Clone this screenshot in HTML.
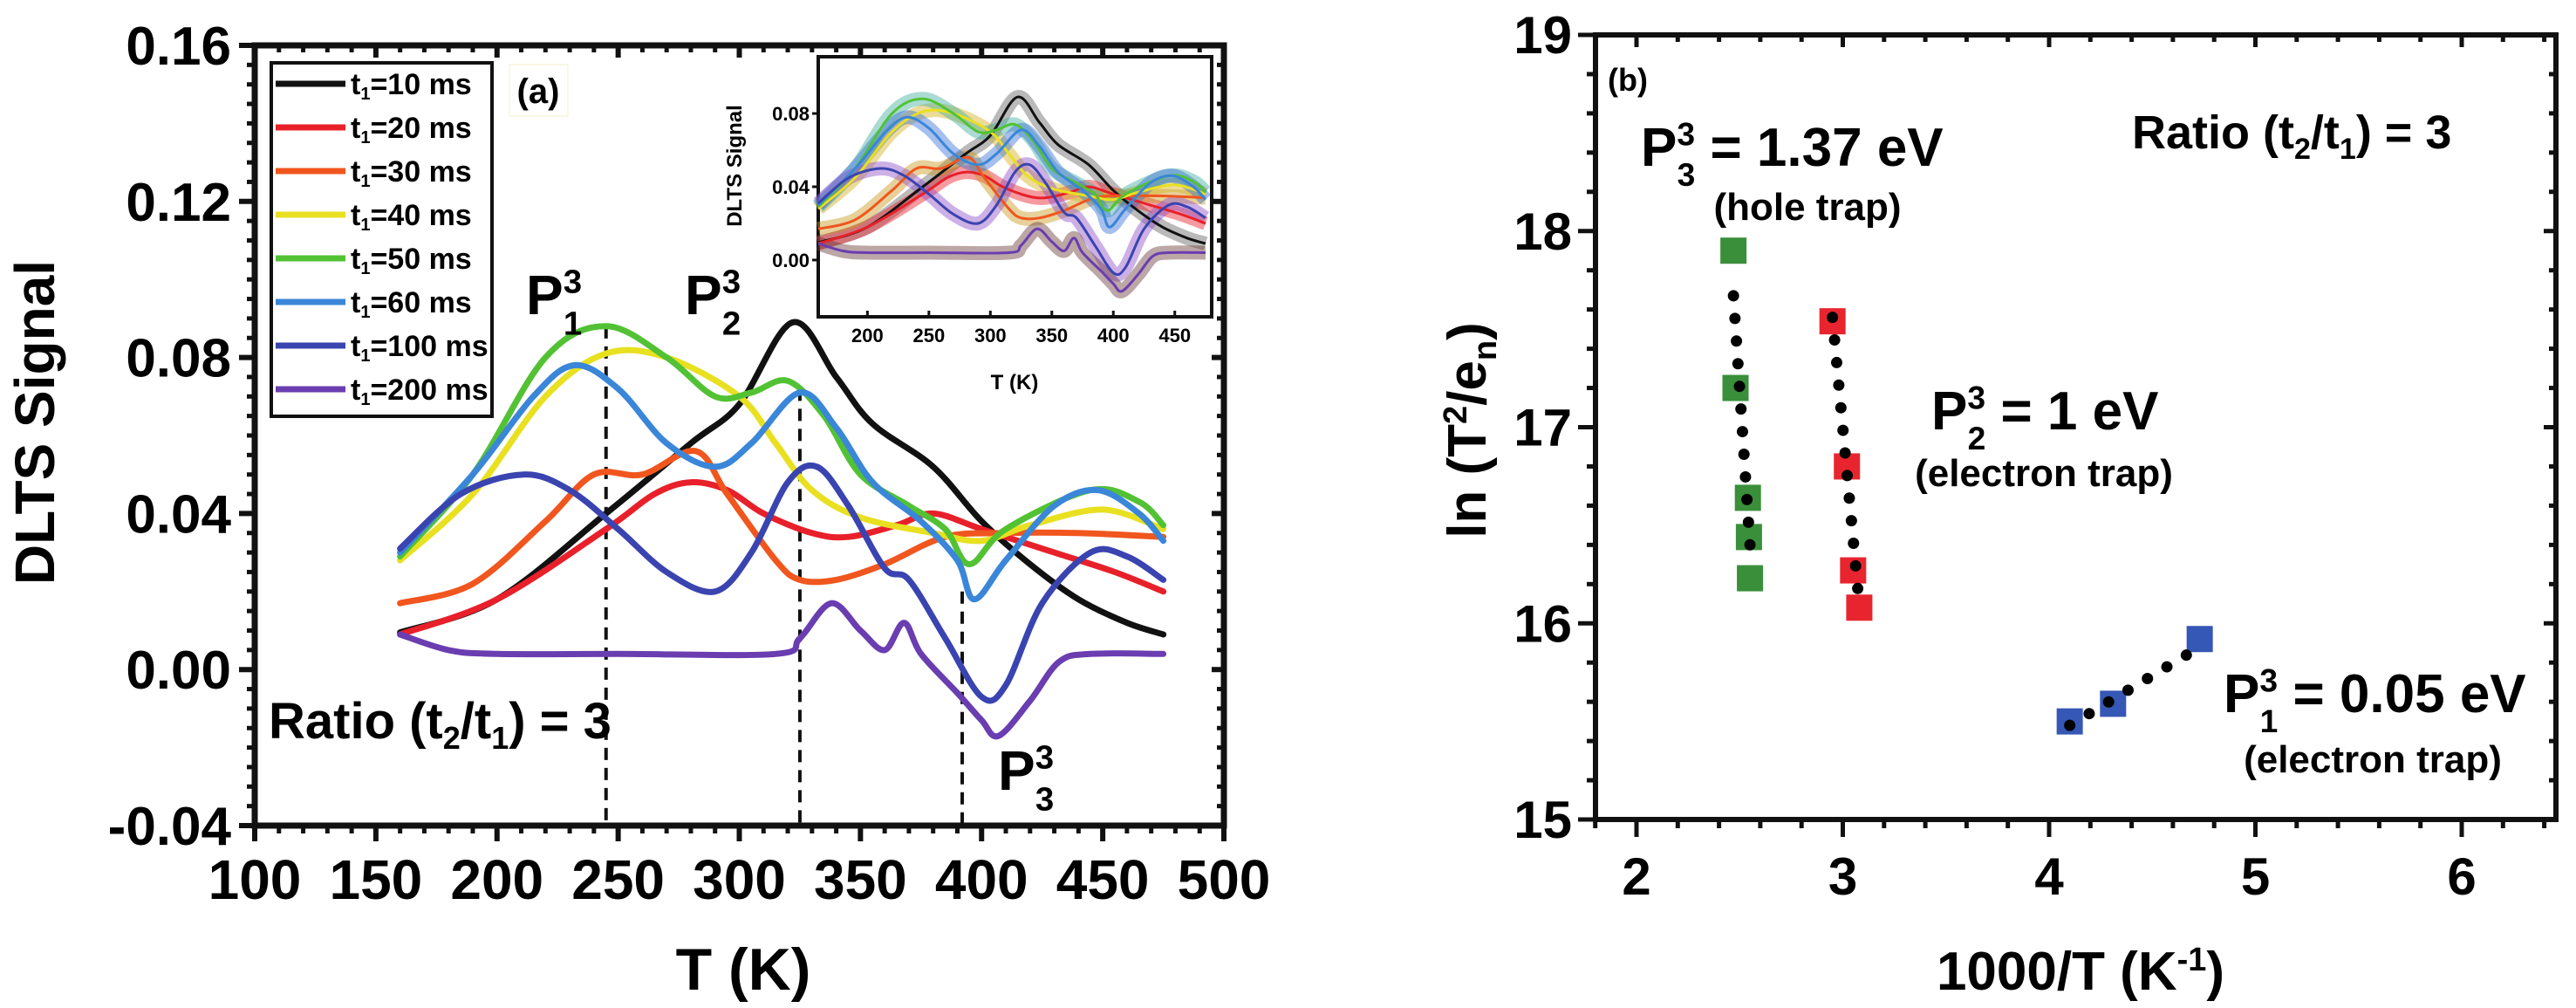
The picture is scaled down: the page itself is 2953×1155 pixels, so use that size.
<!DOCTYPE html>
<html><head><meta charset="utf-8"><style>
html,body{margin:0;padding:0;background:#fff;}
svg{display:block;font-family:"Liberation Sans",sans-serif;font-weight:bold;}
</style></head><body>
<svg id="fig" width="2953" height="1155" viewBox="0 0 2953 1155" xmlns="http://www.w3.org/2000/svg">
<g id="pa"></g>
<g id="pb"></g>
</svg>
<script>
// ---------- Panel (a) data ----------
const seriesLabels = ["10","20","30","40","50","60","100","200"];
const seriesColors = ["#111111","#e8202a","#f0561e","#e8e020","#52c234","#3a86d8","#3a44b0","#6a3db0"];
const tBlack = [160,200,245,280,300,322,340,355,380,400,420,440,460,475];
const sBlack = [0.0095,0.018,0.04,0.058,0.068,0.089,0.075,0.063,0.052,0.038,0.027,0.018,0.012,0.009];
const tRed = [160,200,245,265,280,295,310,330,345,365,380,400,430,455,475];
const sRed = [0.009,0.018,0.036,0.045,0.048,0.046,0.040,0.035,0.034,0.037,0.040,0.036,0.030,0.025,0.020];
const tOrange = [160,190,220,240,260,282,295,315,325,340,360,385,410,440,475];
const sOrange = [0.017,0.022,0.038,0.050,0.050,0.056,0.045,0.028,0.023,0.023,0.027,0.034,0.035,0.035,0.034];
const tYellow = [160,190,220,245,270,300,315,330,350,380,400,420,450,475];
const sYellow = [0.028,0.045,0.070,0.081,0.080,0.070,0.058,0.046,0.039,0.035,0.033,0.037,0.041,0.036];
const tGreen = [160,190,220,245,270,290,305,320,335,350,370,385,395,410,445,465,475];
const sGreen = [0.029,0.050,0.080,0.088,0.080,0.070,0.071,0.074,0.065,0.050,0.042,0.036,0.027,0.036,0.046,0.043,0.037];
const tBlue = [160,190,215,232,250,270,290,305,325,340,355,375,390,397,410,430,448,465,475];
const sBlue = [0.030,0.050,0.070,0.078,0.072,0.058,0.052,0.058,0.071,0.062,0.048,0.038,0.028,0.018,0.028,0.042,0.046,0.040,0.033];
const tNavy = [160,185,211,230,250,270,290,305,320,332,345,360,370,385,400,410,425,445,460,475];
const sNavy = [0.031,0.045,0.050,0.046,0.036,0.025,0.020,0.030,0.048,0.052,0.042,0.026,0.023,0.008,-0.007,-0.004,0.017,0.030,0.029,0.023];
const tPurple = [160,180,200,250,315,325,338,350,360,368,375,390,400,407,420,432,445,475];
const sPurple = [0.009,0.005,0.004,0.004,0.004,0.008,0.017,0.010,0.005,0.012,0.004,-0.006,-0.013,-0.017,-0.008,0.002,0.004,0.004];
const allT = [tBlack,tRed,tOrange,tYellow,tGreen,tBlue,tNavy,tPurple];
const allS = [sBlack,sRed,sOrange,sYellow,sGreen,sBlue,sNavy,sPurple];
const xTicksA = [100,150,200,250,300,350,400,450,500];
const yTicksA = [-0.04,0.00,0.04,0.08,0.12,0.16];
const yTickLabelsA = ["-0.04","0.00","0.04","0.08","0.12","0.16"];
const peakT = [245,325,392];
const peakTop = [0.088,0.072,0.02];
const insetXTicks = [200,250,300,350,400,450];
const insetYTicks = [0.00,0.04,0.08];
const insetYLabels = ["0.00","0.04","0.08"];
const noiseColors = ["#666","#e8202a","#c89a20","#d8b020","#40b0a0","#3a70d8","#9050c8","#6a3a3a"];

// ---------- Panel (b) data ----------
const greenX = [2.47,2.48,2.54,2.545,2.55];
const greenY = [17.90,17.20,16.64,16.44,16.23];
const redX = [2.95,3.02,3.05,3.08];
const redY = [17.54,16.80,16.27,16.08];
const blueX = [4.10,4.31,4.73];
const blueY = [15.50,15.59,15.92];
const fitGreen = [[2.47,17.67],[2.55,16.40]];
const fitRed = [[2.95,17.56],[3.08,16.09]];
const fitBlue = [[4.10,15.48],[4.70,15.86]];
const xTicksB = [2,3,4,5,6];
const yTicksB = [15,16,17,18,19];

const NS="http://www.w3.org/2000/svg";
function mk(tag, attrs, parent){const e=document.createElementNS(NS,tag);for(const k in attrs)e.setAttribute(k,attrs[k]);parent.appendChild(e);return e;}
function smooth(pts){
  let d="M"+pts[0][0].toFixed(1)+","+pts[0][1].toFixed(1);
  for(let i=0;i<pts.length-1;i++){
    const p0=pts[i-1]||pts[i],p1=pts[i],p2=pts[i+1],p3=pts[i+2]||p2;
    const c1=[p1[0]+(p2[0]-p0[0])/6,p1[1]+(p2[1]-p0[1])/6];
    const c2=[p2[0]-(p3[0]-p1[0])/6,p2[1]-(p3[1]-p1[1])/6];
    d+="C"+c1[0].toFixed(1)+","+c1[1].toFixed(1)+" "+c2[0].toFixed(1)+","+c2[1].toFixed(1)+" "+p2[0].toFixed(1)+","+p2[1].toFixed(1);
  }
  return d;
}

// ===== Panel A =====
const A=document.getElementById('pa');
const aL=292,aR=1403,aT=52,aB=946;
const ax=v=>aL+(v-100)/400*(aR-aL);
const ay=v=>aB-(v+0.04)/0.20*(aB-aT);
// minor/major ticks
for(let v=100;v<=500;v+=10){
  const major=v%50===0;
  const t=mk('line',{x1:ax(v),x2:ax(v),y1:aB,y2:aB+(major?18:9),stroke:'#111','stroke-width':major?6:5},A);
  
  
  const t2=mk('line',{x1:ax(v),x2:ax(v),y1:aT,y2:aT+(major?14:8),stroke:'#111','stroke-width':major?6:5},A);
  
  
}
for(let i=0;i<=40;i++){
  const v=-0.04+i*0.005;const major=i%8===0;
  const t=mk('line',{x1:aL,x2:aL-(major?18:9),y1:ay(v),y2:ay(v),stroke:'#111','stroke-width':major?6:5},A);
  
  
  const t2=mk('line',{x1:aR,x2:aR-(major?14:8),y1:ay(v),y2:ay(v),stroke:'#111','stroke-width':major?6:5},A);
  
  
}
const fa=mk('rect',{x:aL,y:aT,width:aR-aL,height:aB-aT,fill:'none',stroke:'#111','stroke-width':7},A);


xTicksA.forEach(v=>{
  const t=mk('text',{x:ax(v),y:1030,'text-anchor':'middle','font-size':64},A);t.textContent=v;
  
  
});
yTicksA.forEach((v,i)=>{
  const t=mk('text',{x:265,y:ay(v)+22,'text-anchor':'end','font-size':62},A);t.textContent=yTickLabelsA[i];
  
  
});
let yl=mk('text',{x:62,y:484,'text-anchor':'middle','font-size':64,transform:'rotate(-90 62 484)'},A);yl.textContent='DLTS Signal';


let xl=mk('text',{x:852,y:1134,'text-anchor':'middle','font-size':68},A);xl.textContent='T (K)';



// dashed lines
peakT.forEach((v,i)=>{
  const l=mk('line',{x1:ax(v),x2:ax(v),y1:ay(peakTop[i]),y2:aB,stroke:'#111','stroke-width':4,'stroke-dasharray':'14,9'},A);
  
  
});
// curves
allT.forEach((ts,k)=>{
  const pts=ts.map((t,i)=>[ax(t),ay(allS[k][i])]);
  const p=mk('path',{d:smooth(pts),fill:'none',stroke:seriesColors[k],'stroke-width':7,'stroke-linejoin':'round','stroke-linecap':'round'},A);
  
  
});
// legend
const lg=mk('g',{},A);


mk('rect',{x:311,y:72,width:253,height:405,fill:'#fff',stroke:'#111','stroke-width':4},lg);
seriesLabels.forEach((s,k)=>{
  const y=96+k*50;
  const g=mk('g',{},lg);
  
  
  mk('line',{x1:316,x2:396,y1:y,y2:y,stroke:seriesColors[k],'stroke-width':7},g);
  const t=mk('text',{x:402,y:y+12,'font-size':34},g);
  t.innerHTML='t<tspan font-size="20" dy="6">1</tspan><tspan dy="-6">='+s+' ms</tspan>';
});
// (a)
const bxa=mk('rect',{x:584,y:74,width:67,height:59,fill:'#fff',stroke:'#f4f0c8','stroke-width':1},A);


let la=mk('text',{x:617,y:118,'text-anchor':'middle','font-size':40},A);la.textContent='(a)';


function ann(parent,x,y,base,sub,name,size){
  const t=mk('text',{x:x,y:y,'font-size':size},parent);
  t.innerHTML=base+'<tspan font-size="'+(size*0.6)+'" dy="'+(-size*0.38)+'">3</tspan><tspan font-size="'+(size*0.6)+'" dx="'+(-size*0.33)+'" dy="'+(size*0.75)+'">'+sub+'</tspan>';
  
  
  return t;
}
ann(A,603,360,'P','1','peak-label-p1',64);
ann(A,785,360,'P','2','peak-label-p2',64);
ann(A,1144,905,'P','3','peak-label-p3',64);
let ra=mk('text',{x:308,y:846,'font-size':58},A);
ra.innerHTML='Ratio (t<tspan font-size="36" dy="12">2</tspan><tspan dy="-12">/t</tspan><tspan font-size="36" dy="12">1</tspan><tspan dy="-12">) = 3</tspan>';



// inset
const I=mk('g',{},A);


const iL=938,iR=1389,iT=65,iB=363;
const ix=v=>iL+(v-160)/320*(iR-iL);
const iy=v=>iB-(v+0.031)/0.142*(iB-iT);
mk('rect',{x:iL,y:iT,width:iR-iL,height:iB-iT,fill:'#fff',stroke:'#111','stroke-width':4},I);
const noiseOrder=[0,7,3,6,5,4,1,2];
allT.forEach((ts,k)=>{
  const pts=ts.map((t,i)=>[ix(t),iy(allS[k][i])]);
  const p=mk('path',{d:smooth(pts),fill:'none',stroke:noiseColors[k],'stroke-width':16,opacity:0.45},I);
  
  
});
allT.forEach((ts,k)=>{
  const pts=ts.map((t,i)=>[ix(t),iy(allS[k][i])]);
  const p=mk('path',{d:smooth(pts),fill:'none',stroke:seriesColors[k],'stroke-width':3},I);
  
  
});
insetXTicks.forEach(v=>{
  mk('line',{x1:ix(v),x2:ix(v),y1:iB,y2:iB-7,stroke:'#111','stroke-width':3},I);
  const t=mk('text',{x:ix(v),y:392,'text-anchor':'middle','font-size':22},I);t.textContent=v;
  
  
});
insetYTicks.forEach((v,i)=>{
  mk('line',{x1:iL,x2:iL-7,y1:iy(v),y2:iy(v),stroke:'#111','stroke-width':3},I);
  const t=mk('text',{x:iL-10,y:iy(v)+8,'text-anchor':'end','font-size':22},I);t.textContent=insetYLabels[i];
  
  
});
let ixl=mk('text',{x:1163,y:446,'text-anchor':'middle','font-size':24},I);ixl.textContent='T (K)';


let iyl=mk('text',{x:850,y:190,'text-anchor':'middle','font-size':24,transform:'rotate(-90 850 190)'},I);iyl.textContent='DLTS Signal';



// ===== Panel B =====
const B=document.getElementById('pb');
const bL=1829,bR=2930,bT=40,bB=939;
const bx=v=>1876+(v-2)*236.5;
const by=v=>bB-(v-15)/4*(bB-bT);
for(let i=0;i<=24;i++){
  const v=1.8+i*0.2;const major=Math.abs(v-Math.round(v))<1e-6;
  if(bx(v)<bL-1||bx(v)>bR+1)continue;
  const t=mk('line',{x1:bx(v),x2:bx(v),y1:bB,y2:bB+(major?20:10),stroke:'#111','stroke-width':5},B);
  
  
  const t2=mk('line',{x1:bx(v),x2:bx(v),y1:bT,y2:bT+(major?14:8),stroke:'#111','stroke-width':5},B);
  
  
}
for(let i=0;i<=20;i++){
  const v=15+i*0.2;const major=i%5===0;
  const t=mk('line',{x1:bL,x2:bL-(major?20:10),y1:by(v),y2:by(v),stroke:'#111','stroke-width':5},B);
  
  
  const t2=mk('line',{x1:bR,x2:bR-(major?14:8),y1:by(v),y2:by(v),stroke:'#111','stroke-width':5},B);
  
  
}
const fb=mk('rect',{x:bL,y:bT,width:bR-bL,height:bB-bT,fill:'none',stroke:'#111','stroke-width':6},B);


xTicksB.forEach(v=>{
  const t=mk('text',{x:bx(v),y:1025,'text-anchor':'middle','font-size':60},B);t.textContent=v;
  
  
});
yTicksB.forEach(v=>{
  const t=mk('text',{x:1802,y:by(v)+21,'text-anchor':'end','font-size':60},B);t.textContent=v;
  
  
});
let byl=mk('text',{x:1703,y:493,'text-anchor':'middle','font-size':62,transform:'rotate(-90 1703 493)'},B);
byl.innerHTML='ln (T<tspan font-size="38" dy="-22">2</tspan><tspan dy="22">/e</tspan><tspan font-size="38" dy="12">n</tspan><tspan dy="-12">)</tspan>';


let bxl=mk('text',{x:2385,y:1134,'text-anchor':'middle','font-size':62},B);
bxl.innerHTML='1000/T (K<tspan font-size="38" dy="-22">-1</tspan><tspan dy="22">)</tspan>';



function squares(xs,ys,color,name){
  xs.forEach((x,i)=>{
    const r=mk('rect',{x:bx(x)-15,y:by(ys[i])-15,width:30,height:30,fill:color},B);
    
    
  });
}
squares(greenX,greenY,'#3a8f3a','point-p3-hole-trap');
squares(redX,redY,'#e8252e','point-p2-electron-trap');
squares(blueX,blueY,'#3557b5','point-p1-electron-trap');
function dotted(f,name){
  const x1=bx(f[0][0]),y1=by(f[0][1]),x2=bx(f[1][0]),y2=by(f[1][1]);
  const l=mk('line',{x1:x1,y1:y1,x2:x2,y2:y2,stroke:'#000','stroke-width':13,'stroke-linecap':'round','stroke-dasharray':'0,26'},B);
  
  
}
dotted(fitGreen,'fit-line-p3');
dotted(fitRed,'fit-line-p2');
dotted(fitBlue,'fit-line-p1');

let lb=mk('text',{x:1843,y:104,'font-size':36},B);lb.textContent='(b)';


ann(B,1881,190,'P','3','energy-label-p3',62).innerHTML+='<tspan dy="-23"> = 1.37 eV</tspan>';
let h1=mk('text',{x:2072,y:252,'text-anchor':'middle','font-size':44},B);h1.textContent='(hole trap)';


ann(B,2214,492,'P','2','energy-label-p2',62).innerHTML+='<tspan dy="-23"> = 1 eV</tspan>';
let h2=mk('text',{x:2343,y:557,'text-anchor':'middle','font-size':44},B);h2.textContent='(electron trap)';


ann(B,2549,816,'P','1','energy-label-p1',62).innerHTML+='<tspan dy="-23"> = 0.05 eV</tspan>';
let h3=mk('text',{x:2720,y:885,'text-anchor':'middle','font-size':44},B);h3.textContent='(electron trap)';


let rb=mk('text',{x:2444,y:170,'font-size':54},B);
rb.innerHTML='Ratio (t<tspan font-size="34" dy="12">2</tspan><tspan dy="-12">/t</tspan><tspan font-size="34" dy="12">1</tspan><tspan dy="-12">) = 3</tspan>';


</script>
</body></html>
